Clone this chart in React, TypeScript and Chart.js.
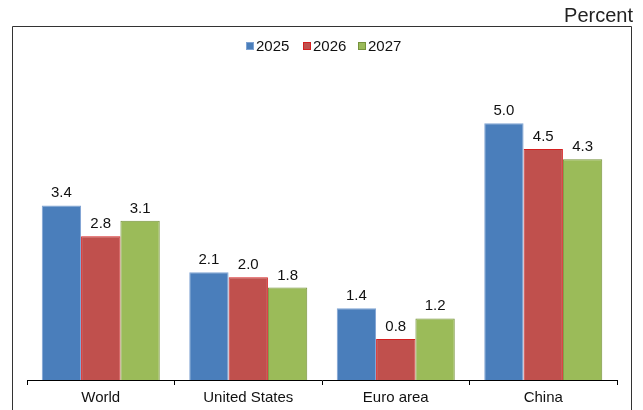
import React, { useEffect, useRef } from "react";
import { Chart, registerables } from "chart.js";

Chart.register(...registerables);

const categories = ["World", "United States", "Euro area", "China"];
const years = ["2025", "2026", "2027"];
const values2025 = [3.4, 2.1, 1.4, 5.0];
const values2026 = [2.8, 2.0, 0.8, 4.5];
const values2027 = [3.1, 1.8, 1.2, 4.3];

const fills = ["#4A7EBB", "#C0504D", "#9BBB59"];
const borders = ["#7FA3D3", "#D42020", "#76923C"];
const FONT = "'Liberation Sans', Arial, sans-serif";

// Frame, unit caption, legend and value labels drawn on the canvas.
const decorations = {
  id: "decorations",
  afterDraw(chart: any) {
    const ctx = chart.ctx as CanvasRenderingContext2D;
    ctx.save();

    // outer frame
    ctx.strokeStyle = "#333";
    ctx.lineWidth = 1;
    ctx.beginPath();
    ctx.moveTo(12.5, 420);
    ctx.lineTo(12.5, 26.5);
    ctx.lineTo(631.5, 26.5);
    ctx.lineTo(631.5, 420);
    ctx.stroke();

    // unit caption
    ctx.fillStyle = "#222";
    ctx.font = `20px ${FONT}`;
    ctx.textAlign = "right";
    ctx.textBaseline = "alphabetic";
    ctx.fillText("Percent", 633, 22);

    // legend
    ctx.font = `15px ${FONT}`;
    ctx.textAlign = "left";
    const legendX = [246, 303, 358];
    chart.data.datasets.forEach((ds: any, i: number) => {
      const x = legendX[i];
      ctx.fillStyle = ds.backgroundColor;
      ctx.fillRect(x, 42, 8, 8);
      ctx.strokeStyle = ds.borderColor;
      ctx.strokeRect(x + 0.5, 42.5, 7, 7);
      ctx.fillStyle = "#111";
      ctx.fillText(ds.label, x + 10, 51);
    });

    // value labels above bars
    ctx.textAlign = "center";
    ctx.fillStyle = "#111";
    chart.data.datasets.forEach((ds: any, i: number) => {
      const meta = chart.getDatasetMeta(i);
      meta.data.forEach((bar: any, j: number) => {
        ctx.fillText(Number(ds.data[j]).toFixed(1), bar.x, bar.y - 8);
      });
    });

    ctx.restore();
  },
};

export default function App() {
  const canvasRef = useRef<HTMLCanvasElement | null>(null);

  useEffect(() => {
    if (!canvasRef.current) return;
    const series = [values2025, values2026, values2027];
    const chart = new Chart(canvasRef.current, {
      type: "bar",
      data: {
        labels: categories,
        datasets: years.map((y, i) => ({
          label: y,
          data: series[i],
          backgroundColor: fills[i],
          borderColor: borders[i],
          borderWidth: 1,
          categoryPercentage: 0.8,
          barPercentage: 1.0,
        })),
      },
      options: {
        animation: false,
        responsive: false,
        maintainAspectRatio: false,
        layout: { padding: { left: 27, right: 26, top: 72, bottom: 0 } },
        plugins: {
          legend: { display: false },
          tooltip: { enabled: false },
        },
        scales: {
          x: {
            grid: {
              offset: true,
              drawOnChartArea: false,
              drawTicks: true,
              tickLength: 5,
              color: "#000",
            },
            border: { display: true, color: "#000", width: 1 },
            ticks: {
              color: "#111",
              padding: 4,
              font: { family: FONT, size: 15 },
              maxRotation: 0,
            },
            afterFit(scale: any) {
              scale.height = 30;
            },
          },
          y: {
            display: false,
            min: 0,
            max: 6,
          },
        },
      },
      plugins: [decorations],
    });
    return () => chart.destroy();
  }, []);

  return (
    <div style={{ position: "fixed", left: 0, top: 0, width: 643, height: 410, background: "#fff" }}>
      <canvas ref={canvasRef} width={643} height={410} />
    </div>
  );
}
